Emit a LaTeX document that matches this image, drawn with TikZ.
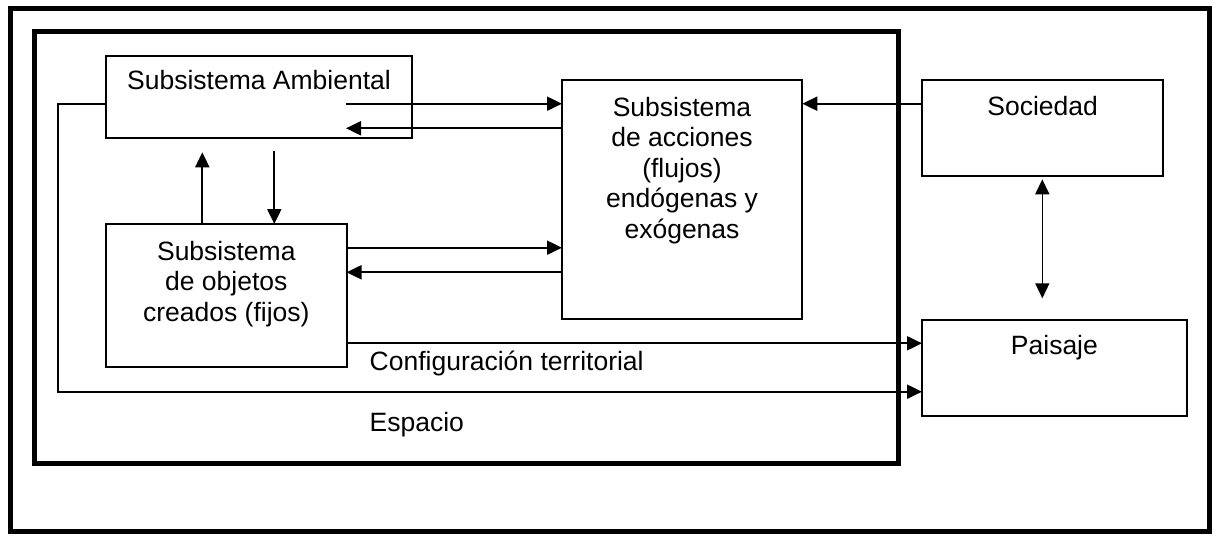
\documentclass[tikz,border=0pt]{standalone}
\usepackage{fontspec}
\setmainfont{Liberation Sans}
\usetikzlibrary{arrows.meta}
\begin{document}
\begin{tikzpicture}[x=0.5pt,y=-0.5pt,
  box/.style={draw, line width=1pt, inner sep=0pt, outer sep=0pt, anchor=north west},
  txt/.style={inner sep=0pt, font=\fontsize{13.25pt}{15.25pt}\selectfont},
  mtxt/.style={txt, align=center, anchor=north},
  frame/.style={line width=2.5pt},
  arr/.style={line width=1pt, -{Triangle[length=7.5pt,width=7pt]}},
  darr/.style={line width=0.75pt, {Triangle[length=7.5pt,width=7pt]}-{Triangle[length=7.5pt,width=7pt]}}]
\useasboundingbox (0,0) rectangle (1218,535);
\fill[white] (0,0) rectangle (1218,535);
% frames
\draw[frame] (10,8.5) rectangle (1209,531.8);
\draw[frame] (34.2,31.8) rectangle (898.2,463.5);
% boxes
\node[box, minimum width=153.15pt, minimum height=41.3pt] (amb) at (106,55.7) {};
\node[box, minimum width=120.15pt, minimum height=119.5pt] (acc) at (562,80) {};
\node[box, minimum width=120.25pt, minimum height=71.6pt] (obj) at (106,224) {};
\node[box, minimum width=120.65pt, minimum height=47.85pt] (soc) at (922,80) {};
\node[box, minimum width=132.25pt, minimum height=48.25pt] (pai) at (922,319.5) {};
% texts
\node[txt, anchor=base] (tamb) at (259,90) {Subsistema Ambiental};
\node[mtxt] (tacc) at (682,96.5) {Subsistema\\de acciones\\(flujos)\\endógenas y\\exógenas};
\node[mtxt] (tobj) at (226.3,240.5) {Subsistema\\de objetos\\creados (fijos)};
\node[txt, anchor=base] (tsoc) at (1042.6,115) {Sociedad};
\node[txt, anchor=base] (tpai) at (1054.4,354.3) {Paisaje};
\node[txt, anchor=base west] (tconf) at (369.3,370) {Configuración territorial};
\node[txt, anchor=base west] (tesp) at (369.3,431) {Espacio};
% helper coordinates
\coordinate (p1) at (346,103.7);
\coordinate (p2) at (346,128.3);
\coordinate (L1) at (58.3,103.7);
\coordinate (L2) at (58.3,391.7);
\coordinate (u) at (202.3,152.3);
\coordinate (d) at (274.3,151);
\coordinate (q1) at (346,247.7);
\coordinate (q2) at (346,272.3);
\coordinate (c1) at (346,343.3);
\coordinate (s1) at (1042.3,179.3);
\coordinate (s2) at (1042.3,298.3);
% connectors
\draw[arr] (p1) -- (p1 -| acc.west);
\draw[arr] (p2 -| acc.west) -- (p2);
\draw[arr] (amb.west |- L1) -- (L1) -- (L2) -- (L2 -| pai.west);
\draw[arr] (u |- obj.north) -- (u);
\draw[arr] (d) -- (d |- obj.north);
\draw[arr] (q1 -| obj.east) -- (q1 -| acc.west);
\draw[arr] (q2 -| acc.west) -- (q2 -| obj.east);
\draw[arr] (c1 -| obj.east) -- (c1 -| pai.west);
\draw[arr] (soc.west |- p1) -- (acc.east |- p1);
\draw[darr] (s1) -- (s2);
\end{tikzpicture}
\end{document}
